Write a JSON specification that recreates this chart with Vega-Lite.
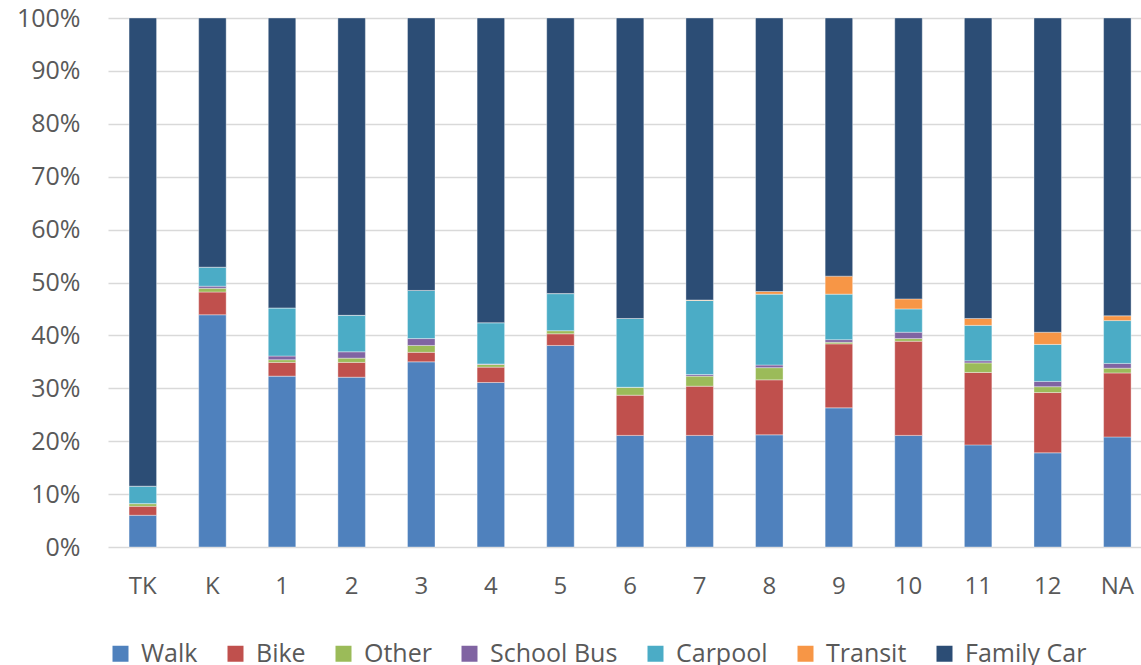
{
  "$schema": "https://vega.github.io/schema/vega-lite/v6.json",
  "width": 1033,
  "height": 529,
  "autosize": {"type": "none"},
  "padding": {"left": 108, "top": 18, "right": 0, "bottom": 118},
  "background": "white",
  "config": {
    "view": {"stroke": null},
    "font": "Open Sans"
  },
  "data": {
    "values": [
      {"grade": "TK", "mode": "Walk", "pct": 6.0},
      {"grade": "TK", "mode": "Bike", "pct": 1.7},
      {"grade": "TK", "mode": "Other", "pct": 0.5},
      {"grade": "TK", "mode": "School Bus", "pct": 0.0},
      {"grade": "TK", "mode": "Carpool", "pct": 3.3},
      {"grade": "TK", "mode": "Transit", "pct": 0.0},
      {"grade": "TK", "mode": "Family Car", "pct": 88.5},
      {"grade": "K", "mode": "Walk", "pct": 43.9},
      {"grade": "K", "mode": "Bike", "pct": 4.3},
      {"grade": "K", "mode": "Other", "pct": 0.7},
      {"grade": "K", "mode": "School Bus", "pct": 0.4},
      {"grade": "K", "mode": "Carpool", "pct": 3.6},
      {"grade": "K", "mode": "Transit", "pct": 0.0},
      {"grade": "K", "mode": "Family Car", "pct": 47.1},
      {"grade": "1", "mode": "Walk", "pct": 32.3},
      {"grade": "1", "mode": "Bike", "pct": 2.6},
      {"grade": "1", "mode": "Other", "pct": 0.5},
      {"grade": "1", "mode": "School Bus", "pct": 0.7},
      {"grade": "1", "mode": "Carpool", "pct": 9.1},
      {"grade": "1", "mode": "Transit", "pct": 0.0},
      {"grade": "1", "mode": "Family Car", "pct": 54.8},
      {"grade": "2", "mode": "Walk", "pct": 32.1},
      {"grade": "2", "mode": "Bike", "pct": 2.8},
      {"grade": "2", "mode": "Other", "pct": 0.8},
      {"grade": "2", "mode": "School Bus", "pct": 1.2},
      {"grade": "2", "mode": "Carpool", "pct": 6.9},
      {"grade": "2", "mode": "Transit", "pct": 0.0},
      {"grade": "2", "mode": "Family Car", "pct": 56.2},
      {"grade": "3", "mode": "Walk", "pct": 35.0},
      {"grade": "3", "mode": "Bike", "pct": 1.8},
      {"grade": "3", "mode": "Other", "pct": 1.3},
      {"grade": "3", "mode": "School Bus", "pct": 1.3},
      {"grade": "3", "mode": "Carpool", "pct": 9.1},
      {"grade": "3", "mode": "Transit", "pct": 0.0},
      {"grade": "3", "mode": "Family Car", "pct": 51.5},
      {"grade": "4", "mode": "Walk", "pct": 31.1},
      {"grade": "4", "mode": "Bike", "pct": 2.9},
      {"grade": "4", "mode": "Other", "pct": 0.5},
      {"grade": "4", "mode": "School Bus", "pct": 0.1},
      {"grade": "4", "mode": "Carpool", "pct": 7.8},
      {"grade": "4", "mode": "Transit", "pct": 0.0},
      {"grade": "4", "mode": "Family Car", "pct": 57.6},
      {"grade": "5", "mode": "Walk", "pct": 38.1},
      {"grade": "5", "mode": "Bike", "pct": 2.2},
      {"grade": "5", "mode": "Other", "pct": 0.6},
      {"grade": "5", "mode": "School Bus", "pct": 0.0},
      {"grade": "5", "mode": "Carpool", "pct": 7.0},
      {"grade": "5", "mode": "Transit", "pct": 0.0},
      {"grade": "5", "mode": "Family Car", "pct": 52.1},
      {"grade": "6", "mode": "Walk", "pct": 21.1},
      {"grade": "6", "mode": "Bike", "pct": 7.6},
      {"grade": "6", "mode": "Other", "pct": 1.5},
      {"grade": "6", "mode": "School Bus", "pct": 0.0},
      {"grade": "6", "mode": "Carpool", "pct": 13.0},
      {"grade": "6", "mode": "Transit", "pct": 0.0},
      {"grade": "6", "mode": "Family Car", "pct": 56.8},
      {"grade": "7", "mode": "Walk", "pct": 21.1},
      {"grade": "7", "mode": "Bike", "pct": 9.3},
      {"grade": "7", "mode": "Other", "pct": 1.9},
      {"grade": "7", "mode": "School Bus", "pct": 0.3},
      {"grade": "7", "mode": "Carpool", "pct": 14.0},
      {"grade": "7", "mode": "Transit", "pct": 0.1},
      {"grade": "7", "mode": "Family Car", "pct": 53.3},
      {"grade": "8", "mode": "Walk", "pct": 21.2},
      {"grade": "8", "mode": "Bike", "pct": 10.4},
      {"grade": "8", "mode": "Other", "pct": 2.3},
      {"grade": "8", "mode": "School Bus", "pct": 0.5},
      {"grade": "8", "mode": "Carpool", "pct": 13.4},
      {"grade": "8", "mode": "Transit", "pct": 0.5},
      {"grade": "8", "mode": "Family Car", "pct": 51.7},
      {"grade": "9", "mode": "Walk", "pct": 26.3},
      {"grade": "9", "mode": "Bike", "pct": 12.1},
      {"grade": "9", "mode": "Other", "pct": 0.3},
      {"grade": "9", "mode": "School Bus", "pct": 0.5},
      {"grade": "9", "mode": "Carpool", "pct": 8.6},
      {"grade": "9", "mode": "Transit", "pct": 3.4},
      {"grade": "9", "mode": "Family Car", "pct": 48.8},
      {"grade": "10", "mode": "Walk", "pct": 21.1},
      {"grade": "10", "mode": "Bike", "pct": 17.8},
      {"grade": "10", "mode": "Other", "pct": 0.5},
      {"grade": "10", "mode": "School Bus", "pct": 1.2},
      {"grade": "10", "mode": "Carpool", "pct": 4.4},
      {"grade": "10", "mode": "Transit", "pct": 1.9},
      {"grade": "10", "mode": "Family Car", "pct": 53.1},
      {"grade": "11", "mode": "Walk", "pct": 19.3},
      {"grade": "11", "mode": "Bike", "pct": 13.7},
      {"grade": "11", "mode": "Other", "pct": 1.8},
      {"grade": "11", "mode": "School Bus", "pct": 0.4},
      {"grade": "11", "mode": "Carpool", "pct": 6.7},
      {"grade": "11", "mode": "Transit", "pct": 1.3},
      {"grade": "11", "mode": "Family Car", "pct": 56.8},
      {"grade": "12", "mode": "Walk", "pct": 17.8},
      {"grade": "12", "mode": "Bike", "pct": 11.4},
      {"grade": "12", "mode": "Other", "pct": 1.1},
      {"grade": "12", "mode": "School Bus", "pct": 1.0},
      {"grade": "12", "mode": "Carpool", "pct": 7.0},
      {"grade": "12", "mode": "Transit", "pct": 2.3},
      {"grade": "12", "mode": "Family Car", "pct": 59.4},
      {"grade": "NA", "mode": "Walk", "pct": 20.8},
      {"grade": "NA", "mode": "Bike", "pct": 12.1},
      {"grade": "NA", "mode": "Other", "pct": 0.9},
      {"grade": "NA", "mode": "School Bus", "pct": 0.9},
      {"grade": "NA", "mode": "Carpool", "pct": 8.1},
      {"grade": "NA", "mode": "Transit", "pct": 0.9},
      {"grade": "NA", "mode": "Family Car", "pct": 56.3}
    ]
  },
  "mark": {"type": "bar", "stroke": "#ffffff", "strokeWidth": 0.6, "strokeOpacity": 0.6},
  "encoding": {
    "x": {
      "field": "grade",
      "type": "nominal",
      "sort": ["TK", "K", "1", "2", "3", "4", "5", "6", "7", "8", "9", "10", "11", "12", "NA"],
      "scale": {"paddingInner": 0.605, "paddingOuter": 0.2225, "align": 0.68},
      "axis": {
        "title": null,
        "labelAngle": 0,
        "labelFontSize": 24,
        "labelColor": "#595959",
        "labelPadding": 27,
        "ticks": false,
        "domain": false,
        "grid": false
      }
    },
    "y": {
      "field": "pct",
      "type": "quantitative",
      "aggregate": "sum",
      "stack": "normalize",
      "scale": {"domain": [0, 1], "nice": false},
      "axis": {
        "title": null,
        "format": ".0%",
        "values": [0, 0.1, 0.2, 0.3, 0.4, 0.5, 0.6, 0.7, 0.8, 0.9, 1.0],
        "labelFontSize": 25,
        "labelColor": "#595959",
        "labelPadding": 28,
        "ticks": false,
        "domain": false,
        "gridColor": "#D9D9D9",
        "gridWidth": 1.6
      }
    },
    "color": {
      "field": "mode",
      "type": "nominal",
      "sort": ["Walk", "Bike", "Other", "School Bus", "Carpool", "Transit", "Family Car"],
      "scale": {
        "domain": ["Walk", "Bike", "Other", "School Bus", "Carpool", "Transit", "Family Car"],
        "range": ["#4F81BD", "#C0504D", "#9BBB59", "#8064A2", "#4BACC6", "#F79646", "#2C4D75"]
      },
      "legend": {
        "title": null,
        "orient": "bottom",
        "direction": "horizontal",
        "symbolType": "square",
        "symbolSize": 256,
        "symbolStrokeWidth": 0,
        "labelFontSize": 25,
        "labelColor": "#595959",
        "labelOffset": 8,
        "columnPadding": 25,
        "offset": 43
      }
    },
    "order": {"field": "mode_order", "type": "quantitative"}
  },
  "transform": [
    {"calculate": "indexof(['Walk','Bike','Other','School Bus','Carpool','Transit','Family Car'], datum.mode)", "as": "mode_order"}
  ]
}
